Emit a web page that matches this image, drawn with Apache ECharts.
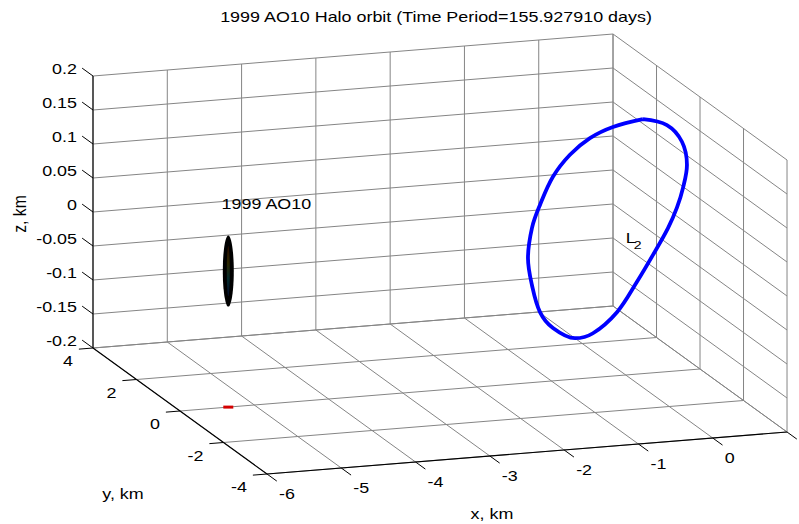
<!DOCTYPE html>
<html><head><meta charset="utf-8">
<script src="https://cdn.jsdelivr.net/npm/echarts@6/dist/echarts.min.js"></script>
<style>html,body{margin:0;padding:0;background:#fff}#c{width:799px;height:524px}</style>
</head><body><div id="c"></div>
<script>
// ---- axis ranges / ticks ----
const xRange = [-6, 1];
const yRange = [-4, 4];
const zRange = [-0.2, 0.2];
const xTicks = [-6, -5, -4, -3, -2, -1, 0, 1];
const xTickLabels = ['-6', '-5', '-4', '-3', '-2', '-1', '0', ''];
const yTicks = [-4, -2, 0, 2, 4];
const yTickLabels = ['-4', '-2', '0', '2', '4'];
const zTicks = [-0.2, -0.15, -0.1, -0.05, 0, 0.05, 0.1, 0.15, 0.2];
const zTickLabels = ['-0.2', '-0.15', '-0.1', '-0.05', '0', '0.05', '0.1', '0.15', '0.2'];

// ---- halo orbit around L2 (km) ----
const haloX = [0.166, 0.198, 0.181, 0.126, 0.053, -0.016, -0.090, -0.197, -0.306, -0.432, -0.540, -0.591, -0.608, -0.589, -0.530, -0.461, -0.368, -0.287, -0.182, -0.085, 0.004, 0.082];
const haloY = [-0.224, -1.218, -1.967, -2.384, -2.449, -2.408, -2.250, -1.926, -1.562, -1.072, -0.338, 0.315, 1.270, 1.931, 2.503, 2.920, 3.053, 2.963, 2.726, 2.275, 1.659, 0.868];
const haloZ = [0.180, 0.194, 0.187, 0.163, 0.131, 0.102, 0.069, 0.023, -0.024, -0.079, -0.126, -0.148, -0.155, -0.147, -0.121, -0.092, -0.051, -0.016, 0.030, 0.072, 0.110, 0.144];

// ---- bodies and labels ----
const asteroidPos = [-5.35, 0, 0];
const groundMarkPos = [-5.35, 0, -0.2];
const asteroidLabel = '1999 AO10';
const asteroidLabelPos = [-5.44, 0, 0.1];
const l2Pos = [0, 0, 0];
const titleText = '1999 AO10 Halo orbit (Time Period=155.927910 days)';

// ---- view: orthographic projection onto a 0..799 x 0..524 value plane ----
const VIEW = { origin: [267, 474], ex: [74.29, -6.0], ey: [-21.75, -15.75], ez: [0, -680] };
function proj(x, y, z) {
  const a = x - xRange[0], b = y - yRange[0], c = z - zRange[0];
  return [VIEW.origin[0] + a * VIEW.ex[0] + b * VIEW.ey[0] + c * VIEW.ez[0],
          VIEW.origin[1] + a * VIEW.ex[1] + b * VIEW.ey[1] + c * VIEW.ez[1]];
}
const SX = 1.28; // horizontal text stretch of the source figure
const FONT = '14px "Liberation Sans", Arial, sans-serif';

function seg(a, b) { return [a[0], a[1], a[2], b[0], b[1], b[2]]; }
const x0 = xRange[0], x1 = xRange[1], y0 = yRange[0], y1 = yRange[1], z0 = zRange[0], z1 = zRange[1];

const gridSegs = [];
xTicks.forEach(x => gridSegs.push(seg([x, y1, z0], [x, y1, z1])));      // back wall verticals
zTicks.forEach(z => gridSegs.push(seg([x0, y1, z], [x1, y1, z])));      // back wall horizontals
yTicks.forEach(y => gridSegs.push(seg([x1, y, z0], [x1, y, z1])));      // right wall verticals
zTicks.forEach(z => gridSegs.push(seg([x1, y0, z], [x1, y1, z])));      // right wall horizontals
xTicks.forEach(x => gridSegs.push(seg([x, y0, z0], [x, y1, z0])));      // floor
yTicks.forEach(y => gridSegs.push(seg([x0, y, z0], [x1, y, z0])));      // floor

const axisSegs = [
  seg([x0, y0, z0], [x1, y0, z0]),
  seg([x0, y0, z0], [x0, y1, z0]),
  seg([x0, y1, z0], [x0, y1, z1])
];
const tickSegs = [];
xTicks.forEach(x => tickSegs.push(seg([x, y0, z0], [x, y0 - 0.45, z0])));
yTicks.forEach(y => tickSegs.push(seg([x0, y, z0], [x0 - 0.19, y, z0])));
zTicks.forEach(z => tickSegs.push(seg([x0, y1, z], [x0, y1 + 0.5, z])));

// tick labels: [x, y, z] anchors + pixel offset + alignment
const tickLabels = [];
xTicks.forEach((x, i) => { if (xTickLabels[i]) tickLabels.push({ value: [x, y0, z0], text: xTickLabels[i], dx: 12, dy: 20, align: 'left' }); });
yTicks.forEach((y, i) => tickLabels.push({ value: [x0, y, z0], text: yTickLabels[i], dx: -20, dy: 13, align: 'right' }));
zTicks.forEach((z, i) => tickLabels.push({ value: [x0, y1, z], text: zTickLabels[i], dx: -16, dy: -7, align: 'right' }));

function segRender(color, width) {
  return function (params, api) {
    const a = api.coord(proj(api.value(0), api.value(1), api.value(2)));
    const b = api.coord(proj(api.value(3), api.value(4), api.value(5)));
    return { type: 'line', silent: true, shape: { x1: a[0], y1: a[1], x2: b[0], y2: b[1] },
             style: { stroke: color, lineWidth: width } };
  };
}
function textEl(p, text, align, font, extra) {
  return Object.assign({ type: 'text', silent: true, x: p[0], y: p[1], scaleX: SX,
    style: { text: text, x: 0, y: 0, align: align, verticalAlign: 'middle', fill: '#000', font: font } }, extra || {});
}

const haloData = haloX.map((x, i) => proj(x, haloY[i], haloZ[i]));
haloData.push(haloData[0]);
const astP = proj(asteroidPos[0], asteroidPos[1], asteroidPos[2]);

const chart = echarts.init(document.getElementById('c'), null, { renderer: 'svg', width: 799, height: 524 });
chart.setOption({
  animation: false,
  backgroundColor: '#fff',
  grid: { left: 0, right: 0, top: 0, bottom: 0 },
  xAxis: { type: 'value', min: 0, max: 799, show: false },
  yAxis: { type: 'value', min: 0, max: 524, inverse: true, show: false },
  graphic: [
    { type: 'text', x: 436, y: 17, scaleX: SX, silent: true,
      style: { text: titleText, align: 'center', verticalAlign: 'middle', fill: '#000', font: FONT } },
    { type: 'text', x: 492, y: 514, scaleX: SX, silent: true,
      style: { text: 'x, km', align: 'center', verticalAlign: 'middle', fill: '#000', font: FONT } },
    { type: 'text', x: 123, y: 494, scaleX: SX, silent: true,
      style: { text: 'y, km', align: 'center', verticalAlign: 'middle', fill: '#000', font: FONT } },
    { type: 'text', x: 20, y: 214, rotation: Math.PI / 2, scaleX: 1.12, scaleY: SX, silent: true,
      style: { text: 'z, km', align: 'center', verticalAlign: 'middle', fill: '#000', font: FONT } }
  ],
  series: [
    { type: 'custom', name: 'grid', data: gridSegs, renderItem: segRender('#858585', 1), z: 1 },
    { type: 'custom', name: 'axes', data: axisSegs, renderItem: segRender('#000', 1.1), z: 2 },
    { type: 'custom', name: 'ticks', data: tickSegs, renderItem: segRender('#000', 1), z: 2 },
    { type: 'custom', name: 'tickLabels', data: tickLabels.map(t => ({ value: t.value })), z: 3,
      renderItem: function (params, api) {
        const t = tickLabels[params.dataIndex];
        const p = api.coord(proj(api.value(0), api.value(1), api.value(2)));
        return textEl([p[0] + t.dx, p[1] + t.dy], t.text, t.align, FONT);
      } },
    { type: 'line', name: 'halo', data: haloData, showSymbol: false, smooth: 0.35, z: 5,
      lineStyle: { color: '#0000ff', width: 3.8 }, itemStyle: { color: '#0000ff' } },
    { type: 'scatter', name: 'asteroid', data: [astP],
      symbol: 'circle', symbolSize: [11, 71], itemStyle: { color: '#000', opacity: 1 }, z: 6 },
    { type: 'scatter', name: 'asteroidSurface', data: [astP],
      symbol: 'circle', symbolSize: [3, 50], z: 7,
      itemStyle: { opacity: 0.75, color: { type: 'linear', x: 0, y: 0, x2: 0, y2: 1, colorStops: [
        { offset: 0, color: '#3a1000' }, { offset: 0.35, color: '#3a3400' },
        { offset: 0.65, color: '#063a3a' }, { offset: 1, color: '#06103a' }] } } },
    { type: 'scatter', name: 'mark', data: [proj(groundMarkPos[0], groundMarkPos[1], groundMarkPos[2])],
      symbol: 'rect', symbolSize: [10, 3], itemStyle: { color: '#d40000', opacity: 1 }, z: 6 },
    { type: 'custom', name: 'labels', z: 8,
      data: [{ value: asteroidLabelPos }, { value: l2Pos }],
      renderItem: function (params, api) {
        const p = api.coord(proj(api.value(0), api.value(1), api.value(2)));
        if (params.dataIndex === 0) {
          return textEl(p, asteroidLabel, 'left', FONT);
        }
        return { type: 'group', children: [
          textEl([p[0], p[1] - 1], 'L', 'left', FONT),
          textEl([p[0] + 8, p[1] + 7], '2', 'left', '11px "Liberation Sans", Arial, sans-serif')
        ] };
      } }
  ]
});
</script></body></html>
